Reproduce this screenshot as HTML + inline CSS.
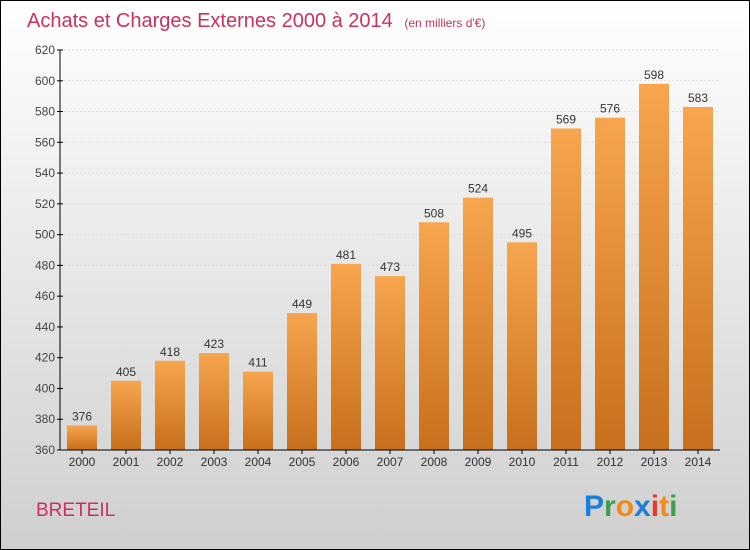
<!DOCTYPE html>
<html><head><meta charset="utf-8"><style>
body{margin:0}
#c{width:750px;height:550px;position:relative;overflow:hidden;font-family:"Liberation Sans",sans-serif}
</style></head><body>
<div id="c">
<svg id="s" width="750" height="550" xmlns="http://www.w3.org/2000/svg" font-family="Liberation Sans, sans-serif">
<defs>
<linearGradient id="bg" x1="0" y1="0" x2="0" y2="1"><stop offset="0" stop-color="#ffffff"/><stop offset="1" stop-color="#cfcfcf"/></linearGradient>
<linearGradient id="bar" x1="0" y1="0" x2="0" y2="1"><stop offset="0" stop-color="#f7a54e"/><stop offset="1" stop-color="#c76f1c"/></linearGradient>
</defs>
<rect x="0.5" y="0.5" width="749" height="549" fill="url(#bg)" stroke="#000"/>
<text x="27" y="27" font-size="20" fill="#c8325e">Achats et Charges Externes 2000 à 2014 <tspan font-size="12" dx="6">(en milliers d'€)</tspan></text>
<g id="plot"></g>
<text x="36" y="516" font-size="19" fill="#c8325e">BRETEIL</text>
<text x="584" y="516" font-size="30" font-weight="bold"><tspan fill="#1a7fd6">P</tspan><tspan fill="#3aa04a">r</tspan><tspan fill="#f28a1a">o</tspan><tspan fill="#1a7fd6">x</tspan><tspan fill="#e83a2a">i</tspan><tspan fill="#f28a1a">t</tspan><tspan fill="#3aa04a">i</tspan></text>
</svg>
</div>
<script>
const years=["2000","2001","2002","2003","2004","2005","2006","2007","2008","2009","2010","2011","2012","2013","2014"];
const values=[376,405,418,423,411,449,481,473,508,524,495,569,576,598,583];
const yTicks=[360,380,400,420,440,460,480,500,520,540,560,580,600,620];
const NS="http://www.w3.org/2000/svg";
const g=document.getElementById('plot');
const yMin=360,yMax=620,pTop=50,pBot=450,pLeft=60,pRight=720;
const y=v=>pBot-(v-yMin)/(yMax-yMin)*(pBot-pTop);
const step=(pRight-pLeft)/years.length;
const x=i=>pLeft+step*(i+0.5);
function mk(t,a){const e=document.createElementNS(NS,t);for(const k in a)e.setAttribute(k,a[k]);g.appendChild(e);return e;}
yTicks.forEach(t=>{
 const l=mk('line',{x1:pLeft,x2:pRight,y1:y(t),y2:y(t),stroke:'#dddddd','stroke-dasharray':'2,2'});
 
 
 const tk=mk('line',{x1:pLeft-3,x2:pLeft+3,y1:y(t),y2:y(t),stroke:'#000'});
 
 
 const tx=mk('text',{x:pLeft-5,y:y(t)+4,'text-anchor':'end','font-size':12,fill:'#444'});
 tx.textContent=t;
 
 
});
values.forEach((v,i)=>{
 const r=mk('rect',{x:x(i)-15,y:y(v),width:30,height:pBot-y(v),fill:'url(#bar)'});
 
 
 const t=mk('text',{x:x(i),y:y(v)-5,'text-anchor':'middle','font-size':12,fill:'#333'});
 t.textContent=v;
 
 
 const xl=mk('text',{x:x(i),y:pBot+16,'text-anchor':'middle','font-size':12,fill:'#333'});
 xl.textContent=years[i];
 
 
 const xt=mk('line',{x1:x(i),x2:x(i),y1:pBot,y2:pBot+4,stroke:'#000'});
 
 
});
const ya=mk('line',{x1:pLeft,x2:pLeft,y1:pTop,y2:pBot,stroke:'#000'});


const xa=mk('line',{x1:pLeft,x2:pRight,y1:pBot,y2:pBot,stroke:'#000'});


</script>
</body></html>
